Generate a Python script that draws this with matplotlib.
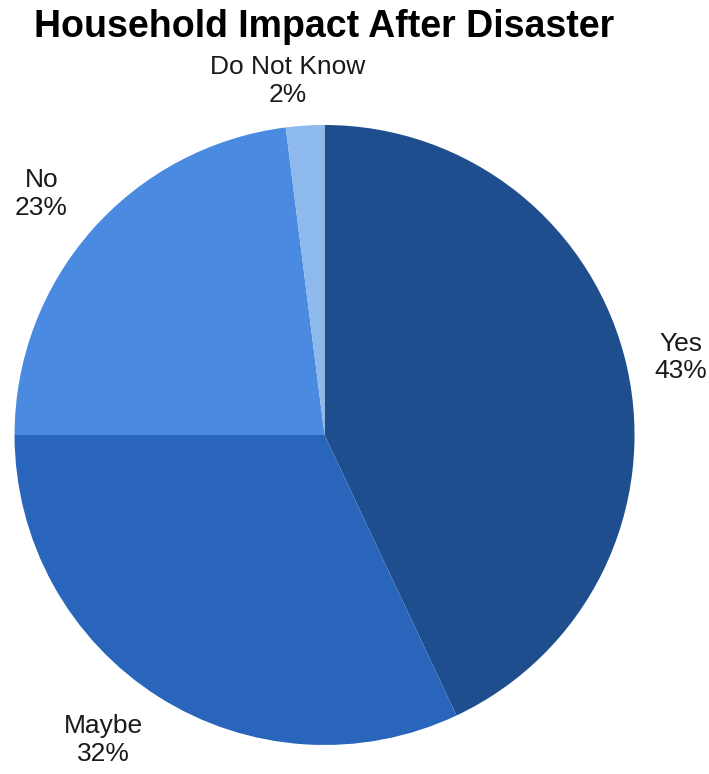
import matplotlib.pyplot as plt

labels = ["Yes", "Maybe", "No", "Do Not Know"]
shares = [43, 32, 23, 2]
colors = ["#1f4e8f", "#2865bb", "#4a8ae0", "#8db9ec"]

plt.rcParams['font.family'] = ['Liberation Sans', 'DejaVu Sans']

fig = plt.figure(figsize=(7.09, 7.74), dpi=100)
ax = fig.add_axes([0.0205, 0.0375, 0.8745, 0.801])
ax.pie(shares, colors=colors, startangle=90, counterclock=False,
       wedgeprops=dict(linewidth=0))
ax.set_xlim(-1, 1)
ax.set_ylim(-1, 1)

# label positions, in radius units
label_pos = [(1.15, 0.25), (-0.713, -0.983), (-0.913, 0.777), (-0.12, 1.142)]
for lab, val, (x, y) in zip(labels, shares, label_pos):
    ax.text(x, y, f"{lab}\n{val}%", ha='center', va='center', fontsize=19,
            color='#1a1a1a', linespacing=1.2, clip_on=False)

fig.text(0.457, 0.965, "Household Impact After Disaster", ha='center', va='center',
         fontsize=27, fontweight='bold', color='black')

fig.savefig("out.png", dpi=100)
